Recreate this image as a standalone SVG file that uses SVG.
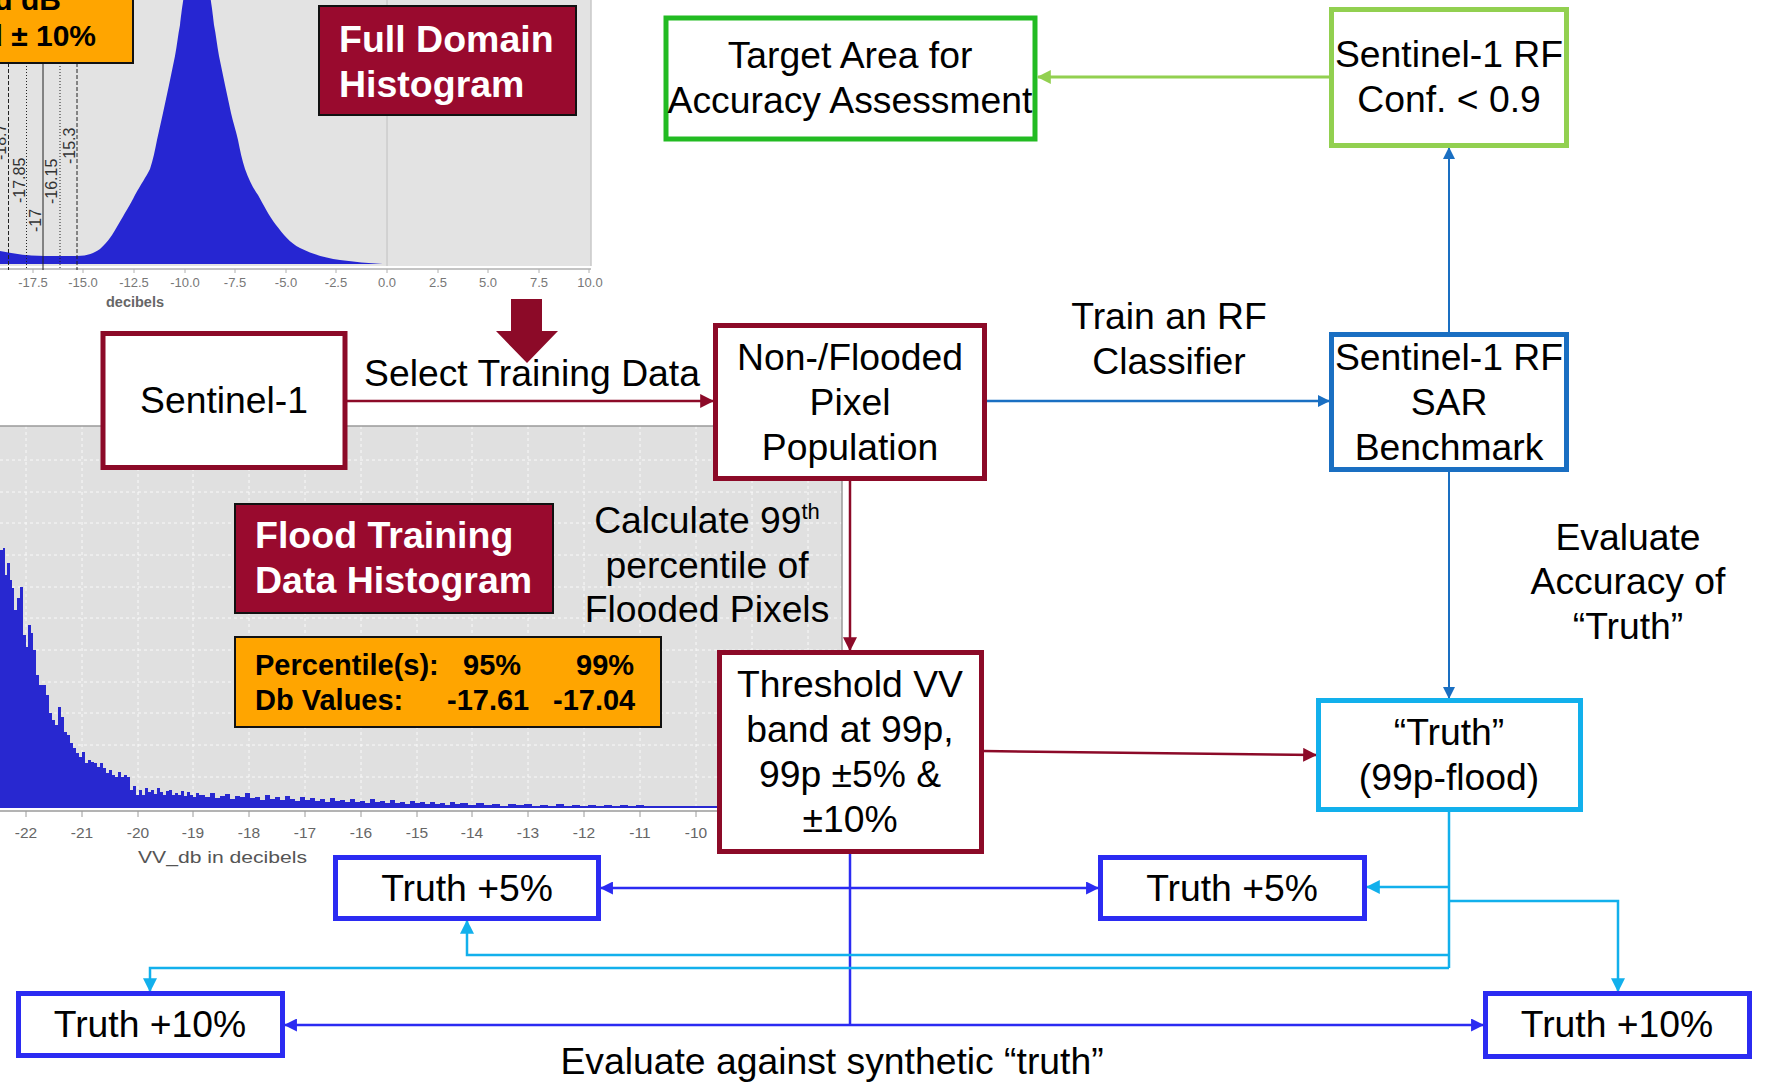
<svg xmlns="http://www.w3.org/2000/svg" width="1768" height="1088" viewBox="0 0 1768 1088">
<style>
text{font-family:"Liberation Sans",Arial,Helvetica,sans-serif;}
.t{font-size:37.3px;fill:#000;text-anchor:middle;}
.box{fill:#fff;stroke-width:5;}
.mar{stroke:#8c0a28;}
.blu{stroke:#1a6fc2;}
.grn{stroke:#22bb22;}
.lgr{stroke:#92d050;}
.cya{stroke:#12b0ec;}
.bbl{stroke:#2b2bf2;}
.title{fill:#990a2e;stroke:#111;stroke-width:2;}
.tw{font-size:37.5px;font-weight:bold;fill:#fff;}
.ob{font-size:29px;font-weight:bold;fill:#000;}
.tk{font-size:13px;fill:#777;text-anchor:middle;}
.tk2{font-size:15.5px;fill:#666;text-anchor:middle;}
.vl{font-size:16px;fill:#333;}
.grid{stroke:#fff;stroke-width:1;stroke-dasharray:3 3;opacity:0.85;}
</style>
<defs>
<marker id="aMar" viewBox="0 0 12 12" refX="11" refY="6" markerWidth="14" markerHeight="14" markerUnits="userSpaceOnUse" orient="auto-start-reverse"><path d="M0,0 L12,6 L0,12 z" fill="#8c0a28"/></marker>
<marker id="aBlu" viewBox="0 0 12 12" refX="11" refY="6" markerWidth="12" markerHeight="12" markerUnits="userSpaceOnUse" orient="auto-start-reverse"><path d="M0,0 L12,6 L0,12 z" fill="#1a6fc2"/></marker>
<marker id="aLgr" viewBox="0 0 12 12" refX="11" refY="6" markerWidth="14" markerHeight="14" markerUnits="userSpaceOnUse" orient="auto-start-reverse"><path d="M0,0 L12,6 L0,12 z" fill="#92d050"/></marker>
<marker id="aCya" viewBox="0 0 12 12" refX="11" refY="6" markerWidth="14" markerHeight="14" markerUnits="userSpaceOnUse" orient="auto-start-reverse"><path d="M0,0 L12,6 L0,12 z" fill="#12b0ec"/></marker>
<marker id="aBbl" viewBox="0 0 12 12" refX="11" refY="6" markerWidth="13" markerHeight="13" markerUnits="userSpaceOnUse" orient="auto-start-reverse"><path d="M0,0 L12,6 L0,12 z" fill="#2b2bf2"/></marker>
</defs>
<rect x="0" y="0" width="1768" height="1088" fill="#fff"/>

<!-- Top histogram (full domain) -->
<g id="full-domain-histogram">
<rect x="0" y="0" width="591" height="266" fill="#e3e3e3"/>
<line x1="591" y1="0" x2="591" y2="266" stroke="#c8c8c8" stroke-width="1.5"/>
<line x1="387" y1="0" x2="387" y2="266" stroke="#c0c0c0" stroke-width="1"/>
<path d="M0,264 L0,251 C15,254 30,256 45,256 L77,256 C88,256 94,253 100,249 C108,242 113,234 118,225 C125,213 130,205 135,195 C141,184 146,177 150,169 C153,160 155,150 157,140 C159,131 161,122 163,113 C165,104 167,94 169,85 C171,75 173,66 175,56 C177,45 178,35 180,25 C181,16 182,8 184,-5 L210,-5 C212,8 213,16 214,25 C216,35 217,45 219,56 C221,66 223,75 225,85 C227,94 229,104 231,113 C233,122 236,131 238,140 C240,150 242,160 245,169 C249,180 253,188 258,195 C263,204 269,216 276,225 C283,234 290,243 300,248 C312,254 325,258 340,260 C355,262 368,263 383,264 Z" fill="#2626d2"/>
<line x1="0" y1="269" x2="591" y2="269" stroke="#b0b0b0" stroke-width="1.5"/>
<g stroke="#b0b0b0" stroke-width="1">
<line x1="33" y1="269" x2="33" y2="273"/><line x1="83" y1="269" x2="83" y2="273"/><line x1="134" y1="269" x2="134" y2="273"/><line x1="185" y1="269" x2="185" y2="273"/><line x1="235" y1="269" x2="235" y2="273"/><line x1="286" y1="269" x2="286" y2="273"/><line x1="336" y1="269" x2="336" y2="273"/><line x1="387" y1="269" x2="387" y2="273"/><line x1="438" y1="269" x2="438" y2="273"/><line x1="488" y1="269" x2="488" y2="273"/><line x1="539" y1="269" x2="539" y2="273"/><line x1="589" y1="269" x2="589" y2="273"/>
</g>
<text class="tk" x="33" y="287">-17.5</text>
<text class="tk" x="83" y="287">-15.0</text>
<text class="tk" x="134" y="287">-12.5</text>
<text class="tk" x="185" y="287">-10.0</text>
<text class="tk" x="235" y="287">-7.5</text>
<text class="tk" x="286" y="287">-5.0</text>
<text class="tk" x="336" y="287">-2.5</text>
<text class="tk" x="387" y="287">0.0</text>
<text class="tk" x="438" y="287">2.5</text>
<text class="tk" x="488" y="287">5.0</text>
<text class="tk" x="539" y="287">7.5</text>
<text class="tk" x="590" y="287">10.0</text>
<text x="135" y="307" font-size="14.5" font-weight="bold" fill="#666" text-anchor="middle">decibels</text>
<!-- threshold lines -->
<g stroke="#222" stroke-width="1" fill="none">
<line x1="8.5" y1="63" x2="8.5" y2="270" stroke-dasharray="4 2"/>
<line x1="26.5" y1="63" x2="26.5" y2="270" stroke-dasharray="1 2"/>
<line x1="43" y1="63" x2="43" y2="270"/>
<line x1="60" y1="63" x2="60" y2="270" stroke-dasharray="1 2"/>
<line x1="77" y1="63" x2="77" y2="270" stroke-dasharray="4 2"/>
</g>
<text class="vl" transform="translate(6,160) rotate(-90)">-18.7</text>
<text class="vl" transform="translate(25,203) rotate(-90)">-17.85</text>
<text class="vl" transform="translate(41,232) rotate(-90)">-17</text>
<text class="vl" transform="translate(57,204) rotate(-90)">-16.15</text>
<text class="vl" transform="translate(75,164) rotate(-90)">-15.3</text>
<!-- orange label (cropped) -->
<rect x="-3" y="-3" width="136" height="66" fill="#ffa500" stroke="#111" stroke-width="2"/>
<text x="61" y="10" font-size="30" font-weight="bold" text-anchor="end">d dB</text>
<text x="96" y="46" font-size="30" font-weight="bold" text-anchor="end">d ± 10%</text>
</g>

<g id="full-domain-title">
<rect class="title" x="319" y="6" width="257" height="109"/>
<text class="tw" x="339" y="52">Full Domain</text>
<text class="tw" x="339" y="97">Histogram</text>
</g>

<!-- Lower histogram (flood training) -->
<g id="flood-training-histogram">
<rect x="0" y="426" width="842" height="382" fill="#e0e0e0"/>
<g class="grid">
<line x1="0" y1="460" x2="842" y2="460"/><line x1="0" y1="492" x2="842" y2="492"/><line x1="0" y1="523" x2="842" y2="523"/><line x1="0" y1="555" x2="842" y2="555"/><line x1="0" y1="587" x2="842" y2="587"/><line x1="0" y1="618" x2="842" y2="618"/><line x1="0" y1="650" x2="842" y2="650"/><line x1="0" y1="682" x2="842" y2="682"/><line x1="0" y1="713" x2="842" y2="713"/><line x1="0" y1="745" x2="842" y2="745"/><line x1="0" y1="777" x2="842" y2="777"/>
<line x1="26" y1="426" x2="26" y2="808"/><line x1="82" y1="426" x2="82" y2="808"/><line x1="138" y1="426" x2="138" y2="808"/><line x1="193" y1="426" x2="193" y2="808"/><line x1="249" y1="426" x2="249" y2="808"/><line x1="305" y1="426" x2="305" y2="808"/><line x1="361" y1="426" x2="361" y2="808"/><line x1="417" y1="426" x2="417" y2="808"/><line x1="472" y1="426" x2="472" y2="808"/><line x1="528" y1="426" x2="528" y2="808"/><line x1="584" y1="426" x2="584" y2="808"/><line x1="640" y1="426" x2="640" y2="808"/><line x1="696" y1="426" x2="696" y2="808"/><line x1="752" y1="426" x2="752" y2="808"/><line x1="808" y1="426" x2="808" y2="808"/>
</g>
<line x1="0" y1="426" x2="842" y2="426" stroke="#9a9a9a" stroke-width="1.5"/>
<line x1="842" y1="426" x2="842" y2="808" stroke="#9a9a9a" stroke-width="1.5"/>
<path fill="#2828d0" d="M0,808 V550 H3 V548 H5 V575 H7 V563 H10 V580 H12 V588 H14 V610 H17 V598 H20 V587 H23 V635 H26 V647 H28 V625 H31 V633 H33 V650 H36 V675 H39 V685 H43 V685 H46 V695 H49 V713 H52 V720 H55 V725 H58 V707 H61 V717 H64 V732 H67 V735 H70 V743 H73 V748 H76 V753 H79 V757 H82 V752 H85 V763 H88 V760 H91 V762 H94 V763 H97 V767 H100 V763 H103 V768 H106 V773 H109 V770 H112 V775 H115 V777 H118 V772 H121 V777 H124 V775 H127 V777 H130 V790 H133 V786 H136 V795 H139 V790 H142 V795 H145 V788 H148 V792 H151 V790 H154 V794 H157 V788 H160 V792 H163 V795 H166 V791 H169 V790 H172 V795 H175 V793 H178 V795 H181 V791 H184 V796 H187 V792 H190 V795 H193 V797 H196 V793 H199 V795 H205 V797 H210 V793 H215 V798 H220 V796 H225 V794 H230 V799 H235 V796 H240 V797 H245 V793 H250 V798 H255 V797 H260 V800 H265 V795 H270 V799 H275 V797 H280 V800 H285 V796 H290 V799 H295 V801 H300 V797 H305 V800 H310 V798 H315 V801 H320 V799 H325 V802 H330 V798 H335 V801 H340 V800 H345 V802 H350 V799 H355 V802 H360 V801 H365 V803 H370 V799 H375 V802 H380 V801 H385 V803 H390 V800 H395 V803 H400 V802 H405 V804 H410 V801 H415 V803 H420 V802 H425 V804 H430 V802 H435 V804 H440 V803 H445 V805 H450 V802 H455 V804 H460 V803 H468 V805 H476 V803 H484 V805 H492 V804 H500 V806 H508 V804 H516 V805 H524 V804 H532 V806 H540 V805 H548 V806 H556 V804 H564 V806 H572 V805 H580 V806 H588 V805 H596 V806 H604 V805 H612 V806 H620 V805 H628 V806 H636 V805 H644 V806 H840 V808 Z"/>
<line x1="0" y1="811" x2="842" y2="811" stroke="#9a9a9a" stroke-width="1.5"/>
<g stroke="#9a9a9a" stroke-width="1">
<line x1="26" y1="811" x2="26" y2="817"/><line x1="82" y1="811" x2="82" y2="817"/><line x1="138" y1="811" x2="138" y2="817"/><line x1="193" y1="811" x2="193" y2="817"/><line x1="249" y1="811" x2="249" y2="817"/><line x1="305" y1="811" x2="305" y2="817"/><line x1="361" y1="811" x2="361" y2="817"/><line x1="417" y1="811" x2="417" y2="817"/><line x1="472" y1="811" x2="472" y2="817"/><line x1="528" y1="811" x2="528" y2="817"/><line x1="584" y1="811" x2="584" y2="817"/><line x1="640" y1="811" x2="640" y2="817"/><line x1="696" y1="811" x2="696" y2="817"/>
</g>
<text class="tk2" x="26" y="838">-22</text>
<text class="tk2" x="82" y="838">-21</text>
<text class="tk2" x="138" y="838">-20</text>
<text class="tk2" x="193" y="838">-19</text>
<text class="tk2" x="249" y="838">-18</text>
<text class="tk2" x="305" y="838">-17</text>
<text class="tk2" x="361" y="838">-16</text>
<text class="tk2" x="417" y="838">-15</text>
<text class="tk2" x="472" y="838">-14</text>
<text class="tk2" x="528" y="838">-13</text>
<text class="tk2" x="584" y="838">-12</text>
<text class="tk2" x="640" y="838">-11</text>
<text class="tk2" x="696" y="838">-10</text>
<text x="138" y="863" font-size="17" fill="#555" textLength="169" lengthAdjust="spacingAndGlyphs">VV_db in decibels</text>
</g>

<g id="flood-training-title">
<rect class="title" x="235" y="504" width="318" height="109"/>
<text class="tw" x="255" y="548">Flood Training</text>
<text class="tw" x="255" y="593">Data Histogram</text>
</g>

<g id="percentile-table">
<rect x="235" y="637" width="426" height="90" fill="#ffa500" stroke="#111" stroke-width="2"/>
<text class="ob" x="255" y="675">Percentile(s):</text>
<text class="ob" x="463" y="675">95%</text>
<text class="ob" x="576" y="675">99%</text>
<text class="ob" x="255" y="710">Db Values:</text>
<text class="ob" x="447" y="710">-17.61</text>
<text class="ob" x="553" y="710">-17.04</text>
</g>

<g id="select-arrow">
<polygon points="511,299 542,299 542,331 558,331 527,363 496,331 511,331" fill="#8c0a28"/>
</g>

<!-- Connectors -->
<g id="connectors" fill="none">
<line x1="347" y1="401" x2="713" y2="401" class="mar" stroke-width="2.5" marker-end="url(#aMar)"/>
<line x1="987" y1="401" x2="1329" y2="401" class="blu" stroke-width="2.5" marker-end="url(#aBlu)"/>
<line x1="1449" y1="333" x2="1449" y2="148" class="blu" stroke-width="2" marker-end="url(#aBlu)"/>
<line x1="1329" y1="77" x2="1038" y2="77" class="lgr" stroke-width="3" marker-end="url(#aLgr)"/>
<line x1="850" y1="480" x2="850" y2="650" class="mar" stroke-width="2.5" marker-end="url(#aMar)"/>
<line x1="983" y1="751" x2="1316" y2="755" class="mar" stroke-width="2.5" marker-end="url(#aMar)"/>
<line x1="1449" y1="471" x2="1449" y2="698" class="blu" stroke-width="2" marker-end="url(#aBlu)"/>
<line x1="850" y1="853" x2="850" y2="1025" class="bbl" stroke-width="2.5"/>
<line x1="601" y1="888" x2="1098" y2="888" class="bbl" stroke-width="2.5" marker-start="url(#aBbl)" marker-end="url(#aBbl)"/>
<line x1="285" y1="1025" x2="1483" y2="1025" class="bbl" stroke-width="2.5" marker-start="url(#aBbl)" marker-end="url(#aBbl)"/>
<line x1="1449" y1="811" x2="1449" y2="968" class="cya" stroke-width="2.5"/>
<line x1="1449" y1="887" x2="1367" y2="887" class="cya" stroke-width="2.5" marker-end="url(#aCya)"/>
<polyline points="1449,901 1618,901 1618,991" class="cya" stroke-width="2.5" marker-end="url(#aCya)"/>
<polyline points="1449,955 467,955 467,921" class="cya" stroke-width="2.5" marker-end="url(#aCya)"/>
<polyline points="1449,968 150,968 150,991" class="cya" stroke-width="2.5" marker-end="url(#aCya)"/>
</g>

<!-- Nodes -->
<g id="sentinel1">
<rect class="box mar" x="103" y="333.5" width="242" height="134"/>
<text class="t" x="224" y="413">Sentinel-1</text>
</g>
<g id="pixel-population">
<rect class="box mar" x="715.5" y="325.5" width="269" height="153"/>
<text class="t" x="850" y="370">Non-/Flooded</text>
<text class="t" x="850" y="415">Pixel</text>
<text class="t" x="850" y="460">Population</text>
</g>
<g id="threshold">
<rect class="box mar" x="719.5" y="652.5" width="262" height="199"/>
<text class="t" x="850" y="697">Threshold VV</text>
<text class="t" x="850" y="742">band at 99p,</text>
<text class="t" x="850" y="787">99p ±5% &amp;</text>
<text class="t" x="850" y="832">±10%</text>
</g>
<g id="target-area">
<rect class="box grn" x="666" y="18" width="369" height="121" stroke-width="6"/>
<text class="t" x="850" y="68">Target Area for</text>
<text class="t" x="850" y="113">Accuracy Assessment</text>
</g>
<g id="rf-conf">
<rect class="box lgr" x="1331.5" y="9.5" width="235" height="136"/>
<text class="t" x="1449" y="67">Sentinel-1 RF</text>
<text class="t" x="1449" y="112">Conf. &lt; 0.9</text>
</g>
<g id="rf-benchmark">
<rect class="box blu" x="1331.5" y="334.5" width="235" height="135"/>
<text class="t" x="1449" y="370">Sentinel-1 RF</text>
<text class="t" x="1449" y="415">SAR</text>
<text class="t" x="1449" y="460">Benchmark</text>
</g>
<g id="truth">
<rect class="box cya" x="1318.5" y="700.5" width="262" height="109"/>
<text class="t" x="1449" y="745">“Truth”</text>
<text class="t" x="1449" y="790">(99p-flood)</text>
</g>
<g id="truth-5-left">
<rect class="box bbl" x="335.5" y="857.5" width="263" height="61"/>
<text class="t" x="467" y="901">Truth +5%</text>
</g>
<g id="truth-5-right">
<rect class="box bbl" x="1100.5" y="857.5" width="264" height="61"/>
<text class="t" x="1232" y="901">Truth +5%</text>
</g>
<g id="truth-10-left">
<rect class="box bbl" x="18.5" y="993.5" width="264" height="62"/>
<text class="t" x="150" y="1037">Truth +10%</text>
</g>
<g id="truth-10-right">
<rect class="box bbl" x="1485.5" y="993.5" width="264" height="63"/>
<text class="t" x="1617" y="1037">Truth +10%</text>
</g>

<!-- Edge labels -->
<g id="labels">
<text class="t" x="532" y="386">Select Training Data</text>
<text class="t" x="1169" y="329">Train an RF</text>
<text class="t" x="1169" y="374">Classifier</text>
<text class="t" x="707" y="533">Calculate 99<tspan font-size="22" dy="-14">th</tspan></text>
<text class="t" x="707" y="578">percentile of</text>
<text class="t" x="707" y="622">Flooded Pixels</text>
<text class="t" x="1628" y="550">Evaluate</text>
<text class="t" x="1628" y="594">Accuracy of</text>
<text class="t" x="1628" y="639">“Truth”</text>
<text class="t" x="832" y="1074">Evaluate against synthetic “truth”</text>
</g>
</svg>
